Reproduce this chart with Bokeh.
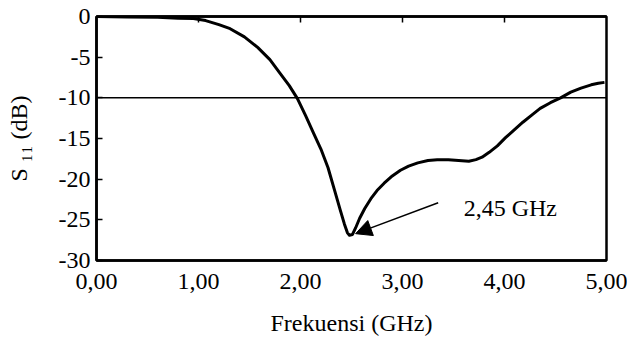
from bokeh.plotting import figure
from bokeh.models import (ColumnDataSource, LinearAxis, FixedTicker, Span, Label,
                          Arrow, NormalHead, Range1d)
from bokeh.embed import file_html
from bokeh.resources import INLINE

# ---- data ----
freq_ghz = [0.00, 0.30, 0.60, 0.80, 0.95, 1.07, 1.20, 1.31, 1.45, 1.58, 1.70, 1.80,
            1.89, 1.97, 2.05, 2.13, 2.20, 2.27, 2.33, 2.39, 2.43, 2.46, 2.48, 2.51,
            2.54, 2.58, 2.63, 2.69, 2.75, 2.82, 2.90, 2.98, 3.06, 3.15, 3.25, 3.34,
            3.45, 3.55, 3.65, 3.72, 3.78, 3.85, 3.93, 4.01, 4.09, 4.18, 4.27, 4.35,
            4.45, 4.55, 4.65, 4.75, 4.85, 4.92, 4.98]
s11_db = [0.0, -0.05, -0.1, -0.2, -0.25, -0.5, -1.0, -1.5, -2.5, -3.8, -5.3, -7.0,
          -8.5, -10.1, -12.2, -14.4, -16.3, -18.6, -21.2, -23.8, -25.5, -26.6, -26.9, -26.8,
          -26.0, -24.8, -23.6, -22.4, -21.4, -20.5, -19.6, -18.9, -18.4, -18.0, -17.7, -17.6,
          -17.6, -17.7, -17.8, -17.6, -17.3, -16.7, -15.9, -14.9, -14.0, -13.0, -12.1, -11.3,
          -10.6, -10.0, -9.3, -8.8, -8.4, -8.2, -8.1]

x_ticks = [0, 1, 2, 3, 4, 5]
x_tick_labels = ["0,00", "1,00", "2,00", "3,00", "4,00", "5,00"]
y_ticks = [0, -5, -10, -15, -20, -25, -30]
y_tick_labels = ["0", "-5", "-10", "-15", "-20", "-25", "-30"]

x_title = "Frekuensi (GHz)"
y_title = "S \u2081\u2081 (dB)"

ref_level_db = -10
annot_text = "2,45 GHz"
annot_text_pos = (3.60, -23.5)
arrow_start = (3.35, -22.9)
arrow_end = (2.54, -26.7)

FONT = "Liberation Serif"

p = figure(frame_width=510, frame_height=244,
           x_range=Range1d(0, 5), y_range=Range1d(-30, 0),
           output_backend="svg", toolbar_location=None,
           min_border_left=96, min_border_right=21, min_border_top=16, min_border_bottom=78,
           x_axis_type=None, y_axis_type=None)
p.xgrid.visible = False
p.ygrid.visible = False
p.outline_line_color = "black"
p.outline_line_width = 2.5
p.background_fill_color = "white"
p.border_fill_color = "white"

# bottom axis
xa = LinearAxis(ticker=FixedTicker(ticks=x_ticks),
                major_label_overrides={t: l for t, l in zip(x_ticks, x_tick_labels)})
xa.axis_label = x_title
xa.axis_label_text_font = FONT
xa.axis_label_text_font_size = "24px"
xa.axis_label_text_font_style = "normal"
xa.axis_label_text_color = "black"
xa.axis_label_standoff = 18
xa.major_label_text_font = FONT
xa.major_label_text_font_size = "24px"
xa.major_label_text_color = "black"
xa.major_label_standoff = 13
xa.major_tick_in = 0
xa.major_tick_out = 0
xa.minor_tick_in = 0
xa.minor_tick_out = 0
xa.axis_line_width = 2.5
xa.axis_line_color = "black"
p.add_layout(xa, "below")

# left axis
ya = LinearAxis(ticker=FixedTicker(ticks=y_ticks),
                major_label_overrides={t: l for t, l in zip(y_ticks, y_tick_labels)})
ya.axis_label = y_title
ya.axis_label_text_font = FONT
ya.axis_label_text_font_size = "24px"
ya.axis_label_text_font_style = "normal"
ya.axis_label_text_color = "black"
ya.axis_label_standoff = 24
ya.major_label_text_font = FONT
ya.major_label_text_font_size = "24px"
ya.major_label_text_color = "black"
ya.major_label_standoff = 6
ya.major_tick_in = 6
ya.major_tick_out = 0
ya.minor_tick_in = 0
ya.minor_tick_out = 0
ya.major_tick_line_width = 1.5
ya.axis_line_width = 2.5
ya.axis_line_color = "black"
p.add_layout(ya, "left")

# top axis with inner ticks only
ta = LinearAxis(ticker=FixedTicker(ticks=x_ticks[1:-1]))
ta.major_label_text_font_size = "0px"
ta.major_label_text_alpha = 0
ta.major_label_standoff = 0
ta.major_tick_in = 6
ta.major_tick_out = 0
ta.minor_tick_in = 0
ta.minor_tick_out = 0
ta.major_tick_line_width = 1.5
ta.axis_line_width = 2.5
ta.axis_line_color = "black"
p.add_layout(ta, "above")

# -10 dB reference line
p.add_layout(Span(location=ref_level_db, dimension="width",
                  line_color="black", line_width=1.5))

# curve
src = ColumnDataSource(dict(f=freq_ghz, s=s11_db))
p.line("f", "s", source=src, line_color="black", line_width=3, line_join="round")

# arrow annotation
p.add_layout(Arrow(end=NormalHead(size=16, fill_color="black", line_color="black", line_width=1),
                   x_start=arrow_start[0], y_start=arrow_start[1],
                   x_end=arrow_end[0], y_end=arrow_end[1],
                   line_color="black", line_width=1.5))
p.add_layout(Label(x=annot_text_pos[0], y=annot_text_pos[1], text=annot_text,
                   text_font=FONT, text_font_size="24px", text_color="black",
                   text_align="left", text_baseline="alphabetic"))

open("out.html", "w").write(file_html(p, INLINE))
